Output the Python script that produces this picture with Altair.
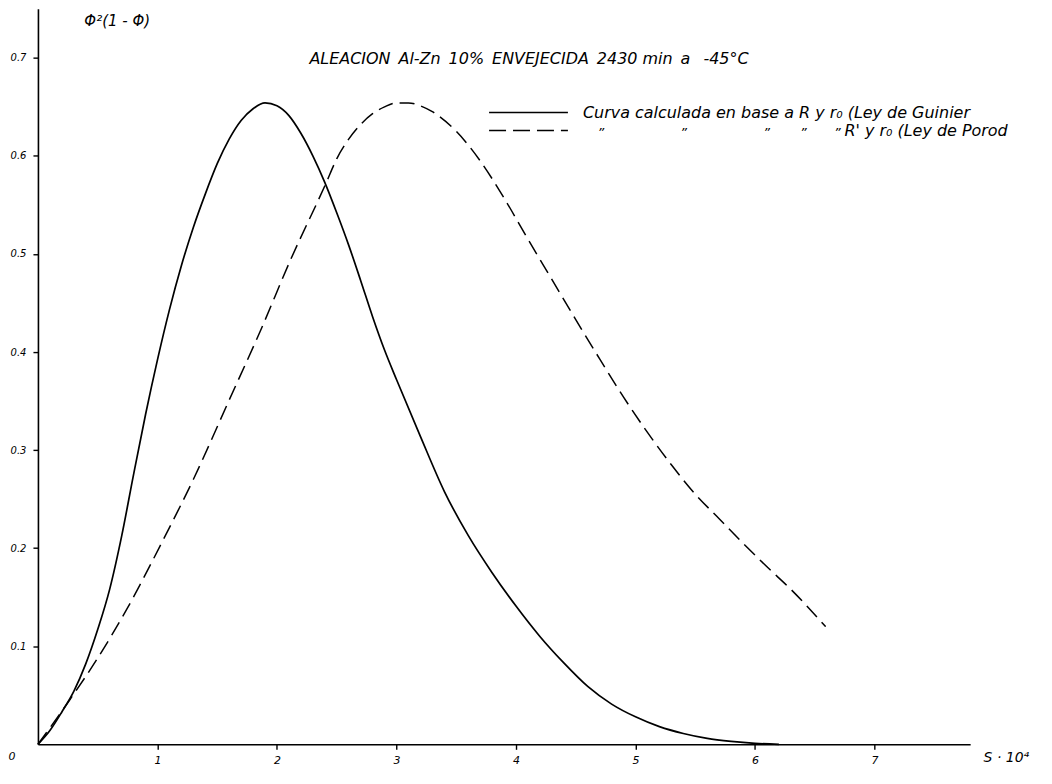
import altair as alt
import pandas as pd

# Solid curve: calculated from R and r0 (Guinier law)
s_solid = [0.0, 0.1, 0.2, 0.3, 0.4, 0.5, 0.6, 0.7, 0.8, 0.9, 1.0, 1.1, 1.2, 1.3, 1.4,
           1.5, 1.6, 1.7, 1.8, 1.9, 2.0, 2.1, 2.2, 2.3, 2.4, 2.5, 2.6, 2.7, 2.8, 2.9,
           3.0, 3.2, 3.4, 3.6, 3.8, 4.0, 4.2, 4.4, 4.6, 4.8, 5.0, 5.2, 5.4, 5.6, 5.8,
           6.0, 6.2]
phi_solid = [0.0, 0.014, 0.033, 0.054, 0.082, 0.117, 0.158, 0.212, 0.275, 0.336, 0.392,
             0.443, 0.488, 0.527, 0.561, 0.592, 0.617, 0.636, 0.648, 0.654, 0.651,
             0.641, 0.623, 0.600, 0.573, 0.542, 0.509, 0.473, 0.436, 0.402, 0.372,
             0.314, 0.258, 0.213, 0.175, 0.141, 0.110, 0.083, 0.059, 0.041, 0.028,
             0.018, 0.011, 0.006, 0.003, 0.001, 0.0]

# Dashed curve: calculated from R' and r0 (Porod law)
s_dash = [0.0, 0.27, 0.49, 0.74, 1.05, 1.30, 1.60, 1.87, 2.11, 2.41, 2.5, 2.6, 2.7,
          2.8, 2.9, 3.0, 3.1, 3.2, 3.3, 3.5, 3.7, 3.9, 4.1, 4.3, 4.5, 4.7, 4.9, 5.1,
          5.3, 5.5, 5.7, 5.9, 6.1, 6.3, 6.59]
phi_dash = [0.0, 0.046, 0.086, 0.137, 0.209, 0.270, 0.351, 0.424, 0.493, 0.572, 0.597,
            0.617, 0.632, 0.643, 0.650, 0.654, 0.654, 0.651, 0.645, 0.625, 0.595,
            0.557, 0.515, 0.474, 0.433, 0.393, 0.354, 0.318, 0.285, 0.255, 0.230,
            0.205, 0.181, 0.158, 0.120]

x_ticks = [1, 2, 3, 4, 5, 6, 7]
y_ticks = [0.1, 0.2, 0.3, 0.4, 0.5, 0.6, 0.7]

SP = "\u2002"
title_text = SP.join(["ALEACION", "Al-Zn", "10%", "ENVEJECIDA", "2430 min", "a", " -45°C"])
legend_solid = "Curva calculada en base a R y r\u2080 (Ley de Guinier"
ditto = "\u201d"
legend_dash_rest = "R' y r\u2080 (Ley de Porod"

FONT = "DejaVu Sans"

df_solid = pd.DataFrame({"s": s_solid, "phi": phi_solid})
df_dash = pd.DataFrame({"s": s_dash, "phi": phi_dash})

xscale = alt.Scale(domain=[0, 7.8], nice=False, zero=True)
yscale = alt.Scale(domain=[0, 0.75], nice=False, zero=True)

xaxis = alt.Axis(values=x_ticks, format="d", grid=False, domainColor="black",
                 domainWidth=1.6, tickColor="black", tickSize=5, tickWidth=1.4,
                 labelFont=FONT, labelFontStyle="italic", labelFontSize=11,
                 labelColor="black", labelPadding=5,
                 title="S · 10⁴", titleX=947, titleY=17, titleAlign="left",
                 titleBaseline="alphabetic",
                 titleFont=FONT, titleFontStyle="italic", titleFontWeight="normal",
                 titleFontSize=14, titleColor="black")
yaxis = alt.Axis(values=y_ticks, format=".1f", grid=False, domainColor="black",
                 domainWidth=1.6, tickColor="black", tickSize=5, tickWidth=1.4,
                 labelFont=FONT, labelFontStyle="italic", labelFontSize=10,
                 labelColor="black", labelPadding=7,
                 title="Φ²(1 - Φ)", titleAngle=0, titleX=46, titleY=17,
                 titleAlign="left", titleBaseline="alphabetic",
                 titleFont=FONT, titleFontStyle="italic", titleFontWeight="normal",
                 titleFontSize=15, titleColor="black")

solid = alt.Chart(df_solid).mark_line(color="black", strokeWidth=1.7,
                                      interpolate="monotone").encode(
    x=alt.X("s:Q", scale=xscale, axis=xaxis),
    y=alt.Y("phi:Q", scale=yscale, axis=yaxis),
)
dash = alt.Chart(df_dash).mark_line(color="black", strokeWidth=1.5,
                                    strokeDash=[15, 7],
                                    interpolate="monotone").encode(
    x=alt.X("s:Q", scale=xscale),
    y=alt.Y("phi:Q", scale=yscale),
)

zero_label = alt.Chart(pd.DataFrame({"s": [0], "phi": [0], "t": ["0"]})).mark_text(
    font=FONT, fontStyle="italic", fontSize=11, color="black", dx=-26, dy=13
).encode(x=alt.X("s:Q", scale=xscale), y=alt.Y("phi:Q", scale=yscale), text="t:N")

base = alt.Chart(pd.DataFrame({"a": [0]}))
title = base.mark_text(font=FONT, fontStyle="italic", fontSize=16, color="black",
                       align="center", baseline="middle").encode(
    x=alt.value(492), y=alt.value(50), text=alt.value(title_text))

leg_solid_line = base.mark_rule(color="black", strokeWidth=1.6).encode(
    x=alt.value(452), x2=alt.value(531), y=alt.value(104))
leg_dash_line = base.mark_rule(color="black", strokeWidth=1.5, strokeDash=[17, 7]).encode(
    x=alt.value(452), x2=alt.value(531), y=alt.value(122))
leg_solid_text = base.mark_text(font=FONT, fontStyle="italic", fontSize=16, color="black",
                                align="left", baseline="middle").encode(
    x=alt.value(546), y=alt.value(104), text=alt.value(legend_solid))

ditto_marks = [
    base.mark_text(font=FONT, fontStyle="italic", fontSize=13, color="black",
                   align="center", baseline="middle").encode(
        x=alt.value(px), y=alt.value(125), text=alt.value(ditto))
    for px in [564, 647, 730, 767, 801]
]
leg_dash_text = base.mark_text(font=FONT, fontStyle="italic", fontSize=16, color="black",
                               align="left", baseline="middle").encode(
    x=alt.value(808), y=alt.value(123), text=alt.value(legend_dash_rest))

chart = alt.layer(solid, dash, zero_label, title, leg_solid_line, leg_dash_line,
                  leg_solid_text, leg_dash_text, *ditto_marks).properties(
    width=934, height=737,
    background="white",
    autosize=alt.AutoSizeParams(type="none"),
    padding={"left": 30, "top": 0, "right": 74, "bottom": 30},
).configure_view(strokeWidth=0)

chart.save("out.html", embed_options={"renderer": "svg", "actions": False})
